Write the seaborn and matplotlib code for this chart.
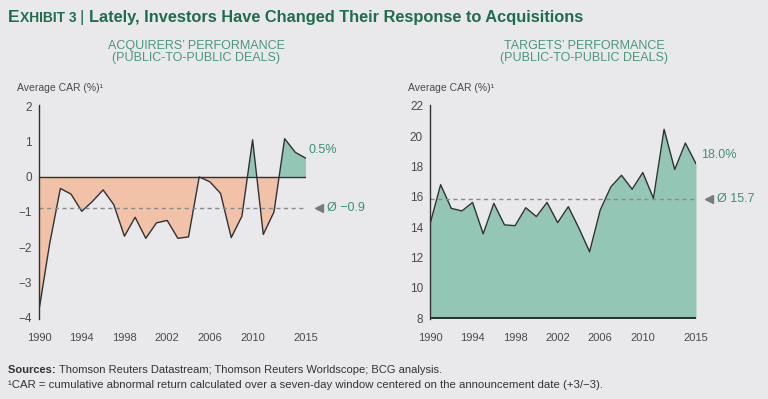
import numpy as np
import pandas as pd
import matplotlib
matplotlib.use("Agg")
import matplotlib.pyplot as plt
import seaborn as sns

# --- data ---
YEARS = list(range(1990, 2016))
ACQUIRER_CAR = [-3.8, -1.9, -0.33, -0.49, -0.98, -0.70, -0.37, -0.79, -1.69, -1.15,
                -1.75, -1.31, -1.24, -1.75, -1.71, 0.0, -0.14, -0.47, -1.73, -1.12,
                1.06, -1.64, -1.0, 1.09, 0.70, 0.53]
TARGET_CAR = [14.2, 16.8, 15.24, 15.07, 15.63, 13.56, 15.57, 14.15, 14.1, 15.28,
              14.7, 15.63, 14.3, 15.35, 13.93, 12.38, 15.13, 16.66, 17.42, 16.5,
              17.6, 15.9, 20.45, 17.8, 19.54, 18.18]
ACQ_AVG = -0.9
TGT_AVG = 15.7
ACQ_LAST_LABEL = '0.5%'
TGT_LAST_LABEL = '18.0%'
XTICKS = [1990, 1994, 1998, 2002, 2006, 2010, 2015]
ACQ_YTICKS = [2, 1, 0, -1, -2, -3, -4]
TGT_YTICKS = [22, 20, 18, 16, 14, 12, 10, 8]

BG = '#E9E9EB'
GREEN_FILL = '#94C6B5'
ORANGE_FILL = '#F1C2A7'
GREEN_TEXT = '#3A9276'
TITLE_GREEN = '#1E6D4F'
SUB_GREEN = '#4A977C'
LINE = '#2F3233'
TEXT = '#4A4A4A'
GRAY = '#8A8A8A'

sns.set_theme(style='white')
FONTS = ['Liberation Sans Narrow', 'Liberation Sans', 'DejaVu Sans']
plt.rcParams['font.family'] = FONTS

df = pd.DataFrame({'year': YEARS, 'acq': ACQUIRER_CAR, 'tgt': TARGET_CAR})


def fmt_minus(v):
    return str(v).replace('-', '\u2212')


def text_run(fig, x, y, pieces):
    # place text pieces one after another on one baseline
    renderer = fig.canvas.get_renderer()
    for s, kw in pieces:
        t = fig.text(x, y, s, va='baseline', ha='left', **kw)
        bb = t.get_window_extent(renderer=renderer)
        x += bb.width / fig.bbox.width


fig = plt.figure(figsize=(7.68, 3.99), dpi=100, facecolor=BG)

ax1 = fig.add_axes([39 / 768, 80 / 399, 267 / 768, 214 / 399])
ax2 = fig.add_axes([430 / 768, 80 / 399, 266 / 768, 214 / 399])

for ax in (ax1, ax2):
    ax.set_facecolor(BG)
    for s in ('top', 'right', 'bottom'):
        ax.spines[s].set_visible(False)
    ax.spines['left'].set_color(LINE)
    ax.spines['left'].set_linewidth(1.0)
    ax.set_xlim(1990, 2015)
    ax.set_xticks(XTICKS)
    ax.set_xticklabels([str(x) for x in XTICKS])
    ax.tick_params(axis='both', length=0, labelsize=8, colors=TEXT)
    ax.tick_params(axis='x', pad=10)
    ax.tick_params(axis='y', pad=5, labelsize=8.5)
    ax.grid(False)

# --- acquirers ---
x = df['year'].values
y = df['acq'].values
ax1.fill_between(x, y, 0, where=y <= 0, interpolate=True, color=ORANGE_FILL, lw=0)
ax1.fill_between(x, y, 0, where=y >= 0, interpolate=True, color=GREEN_FILL, lw=0)
sns.lineplot(data=df, x='year', y='acq', ax=ax1, color=LINE, lw=1.0)
ax1.plot([1990, 2015], [0, 0], color=LINE, lw=1.0)
ax1.set_ylim(-4.05, 2.05)
ax1.set_yticks(ACQ_YTICKS)
ax1.set_yticklabels([fmt_minus(v) for v in ACQ_YTICKS])
ax1.plot([1990, 2015.4], [ACQ_AVG, ACQ_AVG], color=GRAY, lw=1.0, ls=(0, (3, 2.5)))
ax1.plot([2016.2], [ACQ_AVG], marker='<', color='#7A7A7A', ms=6, clip_on=False)
ax1.text(2017.0, ACQ_AVG, '\u00d8 ' + fmt_minus(ACQ_AVG), color=GREEN_TEXT,
         fontsize=9, va='center', ha='left', clip_on=False)
ax1.text(2015.2, ACQUIRER_CAR[-1] + 0.25, ACQ_LAST_LABEL, color=GREEN_TEXT,
         fontsize=9, va='center', ha='left', clip_on=False)
ax1.set_xlabel('')
ax1.set_ylabel('')

# --- targets ---
y2 = df['tgt'].values
ax2.fill_between(x, y2, 8, color=GREEN_FILL, lw=0)
sns.lineplot(data=df, x='year', y='tgt', ax=ax2, color=LINE, lw=1.0)
ax2.plot([1990, 2015], [8, 8], color=LINE, lw=1.5)
ax2.set_ylim(7.95, 22.05)
ax2.set_yticks(TGT_YTICKS)
ax2.set_yticklabels([str(v) for v in TGT_YTICKS])
ax2.plot([1990, 2015.4], [TGT_AVG + 0.15] * 2, color=GRAY, lw=1.0, ls=(0, (3, 2.5)))
ax2.plot([2016.2], [TGT_AVG + 0.15], marker='<', color='#7A7A7A', ms=6, clip_on=False)
ax2.text(2017.0, TGT_AVG + 0.15, f'\u00d8 {TGT_AVG}', color=GREEN_TEXT,
         fontsize=9, va='center', ha='left', clip_on=False)
ax2.text(2015.5, TARGET_CAR[-1] + 0.6, TGT_LAST_LABEL, color=GREEN_TEXT,
         fontsize=9, va='center', ha='left', clip_on=False)
ax2.set_xlabel('')
ax2.set_ylabel('')

# axis captions
fig.text(17 / 768, 1 - 88 / 399, 'Average CAR (%)\u00b9', fontsize=7.5, color=TEXT, va='center')
fig.text(408 / 768, 1 - 88 / 399, 'Average CAR (%)\u00b9', fontsize=7.5, color=TEXT, va='center')

# title, small caps style exhibit number
title_kw = dict(fontweight='bold', color=TITLE_GREEN)
text_run(fig, 8 / 768, 1 - 22 / 399, [
    ('E', dict(fontsize=12.5, **title_kw)),
    ('XHIBIT 3 ', dict(fontsize=10, **title_kw)),
    ('| ', dict(fontsize=12.5, color=TITLE_GREEN)),
    ('Lately, Investors Have Changed Their Response to Acquisitions', dict(fontsize=11.8, **title_kw)),
])

fig.text(196 / 768, 1 - 52 / 399, 'ACQUIRERS\u2019 PERFORMANCE\n(PUBLIC-TO-PUBLIC DEALS)',
         fontsize=9, color=SUB_GREEN, ha='center', va='center', linespacing=1.1)
fig.text(584 / 768, 1 - 52 / 399, 'TARGETS\u2019 PERFORMANCE\n(PUBLIC-TO-PUBLIC DEALS)',
         fontsize=9, color=SUB_GREEN, ha='center', va='center', linespacing=1.1)

# footer
text_run(fig, 8 / 768, 1 - 373 / 399, [
    ('Sources: ', dict(fontsize=8, fontweight='bold', color='#333333')),
    ('Thomson Reuters Datastream; Thomson Reuters Worldscope; BCG analysis.',
     dict(fontsize=8, color='#333333')),
])
fig.text(8 / 768, 1 - 388 / 399,
         '\u00b9CAR = cumulative abnormal return calculated over a seven-day window centered on the announcement date (+3/\u22123).',
         fontsize=8.2, color='#333333', va='baseline')

fig.savefig('out.png', dpi=100, facecolor=BG)
